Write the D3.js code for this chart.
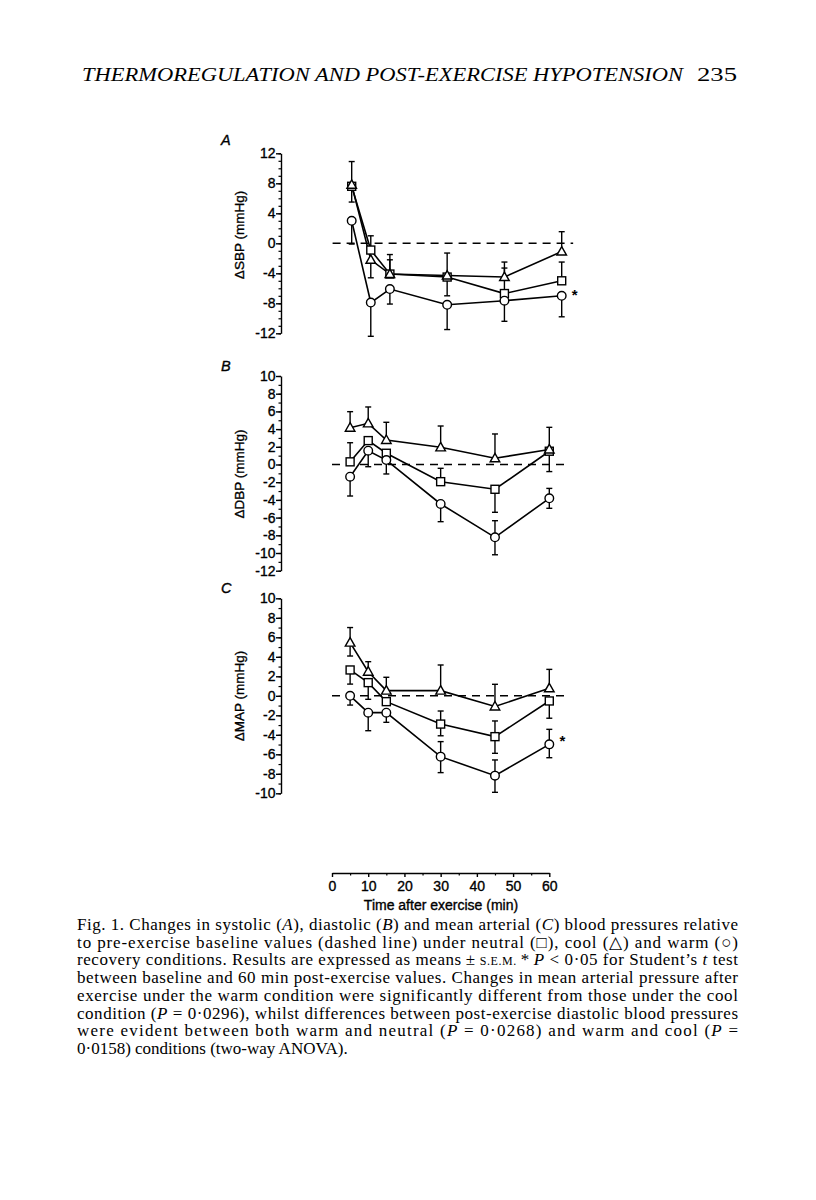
<!DOCTYPE html>
<html>
<head>
<meta charset="utf-8">
<script src="https://cdn.jsdelivr.net/npm/d3@7"></script>
<style>
  body { margin: 0; background: #fff; }
</style>
</head>
<body>
<svg id="fig" width="816" height="1200"></svg>
<script>
// sampling times (min after exercise)
var times = [5, 10, 15, 30, 45, 60];

// A: change in systolic pressure; Up/Down = end of the drawn error bar (null = none)
var sbpNeutral = [7.6, -0.9, -4.1, -4.5, -6.7, -5.0];
var sbpNeutralUp = [10.9, 1.0, -1.5, null, -3.3, -2.5];
var sbpNeutralDown = [null, null, null, -7.0, null, null];
var sbpCool = [7.8, -2.2, -4.1, -4.3, -4.5, -1.1];
var sbpCoolUp = [null, null, -2.2, -1.3, -2.5, 1.55];
var sbpCoolDown = [5.5, -4.6, null, null, null, null];
var sbpWarm = [3.0, -7.9, -6.1, -8.2, -7.65, -7.0];
var sbpWarmUp = [null, null, null, null, null, null];
var sbpWarmDown = [-0.1, -12.4, -8.1, -11.5, -10.4, -9.8];

// B: change in diastolic pressure
var dbpNeutral = [0.3, 2.7, 1.27, -1.94, -2.8, 1.5];
var dbpNeutralUp = [2.46, null, null, -0.43, null, null];
var dbpNeutralDown = [null, null, null, null, -5.4, -0.8];
var dbpCool = [4.16, 4.65, 2.77, 1.94, 0.7, 1.7];
var dbpCoolUp = [5.97, 6.5, 4.77, 4.35, 3.45, 4.2];
var dbpCoolDown = [null, null, null, null, null, null];
var dbpWarm = [-1.38, 1.56, 0.5, -4.46, -8.23, -3.82];
var dbpWarmUp = [null, null, null, null, -6.35, -2.7];
var dbpWarmDown = [-3.56, -0.25, -1.07, -6.46, -10.2, -4.95];

// C: change in mean arterial pressure
var mapNeutral = [2.65, 1.35, -0.6, -2.9, -4.19, -0.53];
var mapNeutralUp = [null, null, null, -1.56, -2.58, null];
var mapNeutralDown = [1.2, -0.36, null, -4.1, -5.9, -2.3];
var mapCool = [5.45, 2.47, 0.53, 0.53, -1.1, 0.77];
var mapCoolUp = [7.0, 3.5, 1.9, 3.16, 1.18, 2.71];
var mapCoolDown = [4.08, null, null, null, null, null];
var mapWarm = [0, -1.73, -1.73, -6.24, -8.19, -4.98];
var mapWarmUp = [null, null, null, -4.7, -6.58, -3.44];
var mapWarmDown = [-0.95, -3.58, -2.72, -7.88, -9.9, -6.35];

// tick labels
var sbpTicks = [12, 8, 4, 0, -4, -8, -12];
var dbpTicks = [10, 8, 6, 4, 2, 0, -2, -4, -6, -8, -10, -12];
var mapTicks = [10, 8, 6, 4, 2, 0, -2, -4, -6, -8, -10];
var timeTicks = [0, 10, 20, 30, 40, 50, 60];
var timeMinor = [5, 15, 25, 35, 45, 55];

var headerText = 'THERMOREGULATION AND POST-EXERCISE HYPOTENSION';
var pageNumber = '235';
var xTitle = 'Time after exercise (min)';

// caption: each line is a list of [text, style] pieces (i = italic, sc = small caps)
var captionLines = [
  [['Fig. 1. Changes in systolic ('], ['A', 'i'], ['), diastolic ('], ['B', 'i'], [') and mean arterial ('], ['C', 'i'], [') blood pressures relative']],
  [['to pre-exercise baseline values (dashed line) under neutral (\u25A1), cool (\u25B3) and warm (\u25CB)']],
  [['recovery conditions. Results are expressed as means\u2009\u00B1\u2009'], ['S.E.M.', 'sc'], ['\u2009*\u2009'], ['P', 'i'], [' < 0\u00B705 for Student\u2019s '], ['t', 'i'], [' test']],
  [['between baseline and 60 min post-exercise values. Changes in mean arterial pressure after']],
  [['exercise under the warm condition were significantly different from those under the cool']],
  [['condition ('], ['P', 'i'], [' = 0\u00B70296), whilst differences between post-exercise diastolic blood pressures']],
  [['were evident between both warm and neutral ('], ['P', 'i'], [' = 0\u00B70268) and warm and cool ('], ['P', 'i'], [' =']],
  [['0\u00B70158) conditions (two-way ANOVA).']]
];

var sans = "'Liberation Sans', Arial, Helvetica, sans-serif";
var serif = "'Liberation Serif', 'Times New Roman', serif";

// tick labels print with a short hyphen as minus sign
var fmt = function (d) { return String(d); };

var svg = d3.select('#fig');

// header
svg.append('text')
    .attr('x', 82).attr('y', 81)
    .attr('font-family', serif).attr('font-style', 'italic')
    .attr('font-size', 18.5)
    .attr('textLength', 601).attr('lengthAdjust', 'spacingAndGlyphs')
    .text(headerText);
svg.append('text')
    .attr('x', 737).attr('y', 81)
    .attr('text-anchor', 'end')
    .attr('font-family', serif).attr('font-size', 18.5)
    .attr('textLength', 40).attr('lengthAdjust', 'spacingAndGlyphs')
    .text(pageNumber);

var panels = [
  { letter: 'A', title: '\u0394SBP (mmHg)', ticks: sbpTicks, domain: [-12, 12],
    yRange: [333.3, 153.3], xRange: [332.6, 561.7], dashEnd: 63, letterY: 145, titleY: 235,
    star: true, starDy: 4,
    series: [
      { shape: 'square', v: sbpNeutral, up: sbpNeutralUp, down: sbpNeutralDown },
      { shape: 'triangle', v: sbpCool, up: sbpCoolUp, down: sbpCoolDown },
      { shape: 'circle', v: sbpWarm, up: sbpWarmUp, down: sbpWarmDown }
    ] },
  { letter: 'B', title: '\u0394DBP (mmHg)', ticks: dbpTicks, domain: [-12, 10],
    yRange: [570.7, 376], xRange: [332, 549.3], dashEnd: 65, letterY: 371, titleY: 474,
    star: false,
    series: [
      { shape: 'square', v: dbpNeutral, up: dbpNeutralUp, down: dbpNeutralDown },
      { shape: 'triangle', v: dbpCool, up: dbpCoolUp, down: dbpCoolDown },
      { shape: 'circle', v: dbpWarm, up: dbpWarmUp, down: dbpWarmDown }
    ] },
  { letter: 'C', title: '\u0394MAP (mmHg)', ticks: mapTicks, domain: [-10, 10],
    yRange: [793.3, 598.3], xRange: [332, 549.3], dashEnd: 65, letterY: 593, titleY: 696,
    star: true, starDy: 1.5,
    series: [
      { shape: 'square', v: mapNeutral, up: mapNeutralUp, down: mapNeutralDown },
      { shape: 'triangle', v: mapCool, up: mapCoolUp, down: mapCoolDown },
      { shape: 'circle', v: mapWarm, up: mapWarmUp, down: mapWarmDown }
    ] }
];

var axisX = 281;

function inkText(sel) {
  // printed labels are a touch heavier than the plain font
  sel.attr('stroke', '#000').attr('stroke-width', 0.35);
}

panels.forEach(function (p) {
  var x = d3.scaleLinear().domain([0, 60]).range(p.xRange);
  var y = d3.scaleLinear().domain(p.domain).range(p.yRange);
  var g = svg.append('g');

  // panel letter
  g.append('text')
      .attr('x', 221).attr('y', p.letterY)
      .attr('font-family', sans).attr('font-style', 'italic')
      .attr('font-size', 14.5)
      .call(inkText)
      .text(p.letter);

  // y title
  g.append('text')
      .attr('transform', 'translate(244,' + p.titleY + ') rotate(-90)')
      .attr('text-anchor', 'middle')
      .attr('font-family', sans).attr('font-size', 13.5)
      .call(inkText)
      .text(p.title);

  // minor ticks every 1 unit
  g.append('g')
      .attr('transform', 'translate(' + axisX + ',0)')
      .call(d3.axisLeft(y).tickValues(d3.range(p.domain[0], p.domain[1] + 1)).tickSize(2.5).tickFormat(''))
      .call(function (a) { a.select('.domain').remove(); })
      .selectAll('line').attr('stroke-width', 1.2);

  // major ticks + labels
  g.append('g')
      .attr('transform', 'translate(' + axisX + ',0)')
      .call(d3.axisLeft(y).tickValues(p.ticks).tickSize(5).tickSizeOuter(0).tickPadding(0.5).tickFormat(fmt))
      .attr('font-family', sans).attr('font-size', 14)
      .call(function (a) {
        a.select('.domain').attr('stroke-width', 1.4);
        a.selectAll('line').attr('stroke-width', 1.4);
        a.selectAll('text').call(inkText);
      });

  // baseline
  g.append('line')
      .attr('x1', x(0)).attr('x2', x(p.dashEnd))
      .attr('y1', y(0)).attr('y2', y(0))
      .attr('stroke', '#000').attr('stroke-width', 1.4)
      .attr('stroke-dasharray', '8,6');

  var line = d3.line()
      .x(function (d, i) { return x(times[i]); })
      .y(function (d) { return y(d); });

  p.series.forEach(function (s) {
    g.append('path')
        .attr('d', line(s.v))
        .attr('fill', 'none').attr('stroke', '#000').attr('stroke-width', 1.6);
  });

  // error bars
  p.series.forEach(function (s) {
    [s.up, s.down].forEach(function (ends) {
      ends.forEach(function (e, i) {
        if (e === null) return;
        var cx = x(times[i]);
        g.append('line')
            .attr('x1', cx).attr('x2', cx)
            .attr('y1', y(s.v[i])).attr('y2', y(e))
            .attr('stroke', '#000').attr('stroke-width', 1.4);
        g.append('line')
            .attr('x1', cx - 3).attr('x2', cx + 3)
            .attr('y1', y(e)).attr('y2', y(e))
            .attr('stroke', '#000').attr('stroke-width', 1.4);
      });
    });
  });

  // markers
  p.series.forEach(function (s) {
    s.v.forEach(function (v, i) {
      var cx = x(times[i]), cy = y(v);
      var m;
      if (s.shape === 'circle') {
        m = g.append('circle').attr('cx', cx).attr('cy', cy).attr('r', 4.3);
      } else if (s.shape === 'square') {
        m = g.append('rect').attr('x', cx - 4).attr('y', cy - 4).attr('width', 8).attr('height', 8);
      } else {
        m = g.append('path').attr('d', 'M' + cx + ',' + (cy - 5) + 'L' + (cx + 4.8) + ',' + (cy + 3.5) + 'L' + (cx - 4.8) + ',' + (cy + 3.5) + 'Z');
      }
      m.attr('fill', '#fff').attr('stroke', '#000').attr('stroke-width', 1.4);
    });
  });

  if (p.star) {
    var warm = p.series[2].v;
    g.append('text')
        .attr('x', x(60) + 13).attr('y', y(warm[warm.length - 1]) + p.starDy)
        .attr('text-anchor', 'middle')
        .attr('font-family', sans).attr('font-weight', 'bold').attr('font-size', 15)
        .text('*');
  }
});

// shared time axis
var tScale = d3.scaleLinear().domain([0, 60]).range([332, 549.3]);
svg.append('g')
    .attr('transform', 'translate(0,873)')
    .call(d3.axisBottom(tScale).tickValues(timeMinor).tickSize(2.5).tickFormat(''))
    .call(function (a) { a.select('.domain').remove(); })
    .selectAll('line').attr('stroke-width', 1.2);
svg.append('g')
    .attr('transform', 'translate(0,873)')
    .call(d3.axisBottom(tScale).tickValues(timeTicks).tickSize(4).tickSizeOuter(0).tickPadding(4.5).tickFormat(fmt))
    .attr('font-family', sans).attr('font-size', 14)
    .call(function (a) {
      a.select('.domain').attr('stroke-width', 1.4);
      a.selectAll('line').attr('stroke-width', 1.4);
      a.selectAll('text').call(inkText);
    });
svg.append('text')
    .attr('x', 441).attr('y', 910)
    .attr('text-anchor', 'middle')
    .attr('font-family', sans).attr('font-size', 14)
    .call(inkText)
    .text(xTitle);

// caption
captionLines.forEach(function (parts, li) {
  var t = svg.append('text')
      .attr('x', 77).attr('y', 930 + li * 17.7)
      .attr('font-family', serif).attr('font-size', 17);
  if (li < captionLines.length - 1) {
    t.attr('textLength', 661).attr('lengthAdjust', 'spacing');
  }
  parts.forEach(function (pt) {
    var ts = t.append('tspan').text(pt[0]);
    if (pt[1] === 'i') ts.attr('font-style', 'italic');
    if (pt[1] === 'sc') ts.attr('font-size', 12);
  });
});
</script>
</body>
</html>
